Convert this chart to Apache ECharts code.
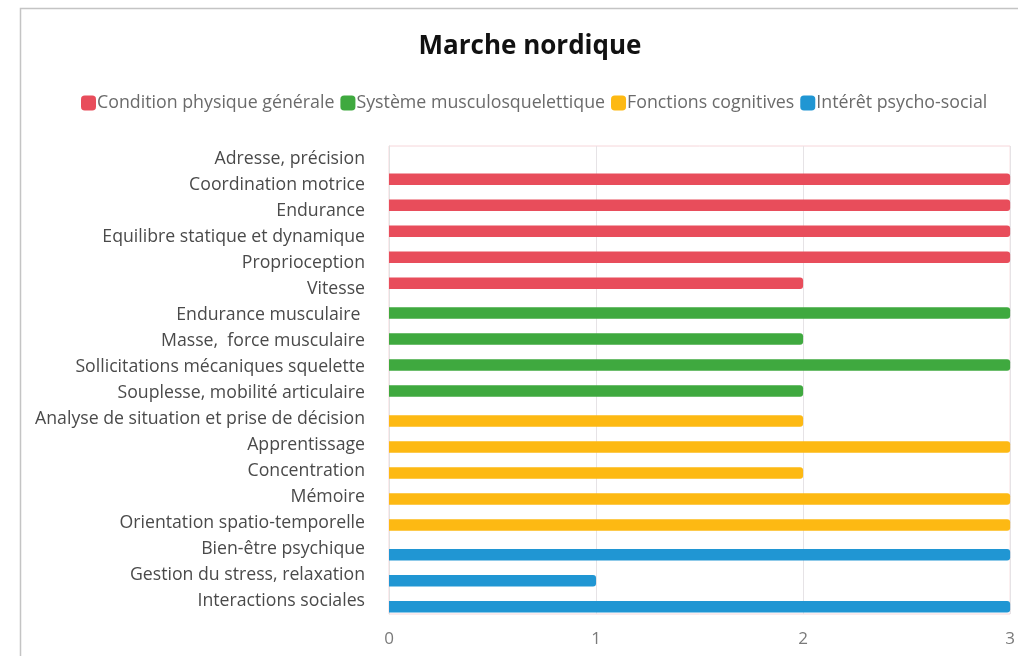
<!DOCTYPE html>
<html>
<head>
<meta charset="utf-8">
<title>Marche nordique</title>
<script src="https://cdn.jsdelivr.net/npm/echarts@6/dist/echarts.min.js"></script>
<style>
  html, body { margin: 0; padding: 0; background: #fff; }
  #chart { width: 1018px; height: 656px; }
</style>
</head>
<body>
<div id="chart"></div>
<script>
// categories, top to bottom
const categories = [
  'Adresse, précision',
  'Coordination motrice',
  'Endurance',
  'Equilibre statique et dynamique',
  'Proprioception',
  'Vitesse',
  'Endurance musculaire ',
  'Masse,  force musculaire',
  'Sollicitations mécaniques squelette',
  'Souplesse, mobilité articulaire',
  'Analyse de situation et prise de décision',
  'Apprentissage',
  'Concentration',
  'Mémoire',
  'Orientation spatio-temporelle',
  'Bien-être psychique',
  'Gestion du stress, relaxation',
  'Interactions sociales'
];

const seriesNames = [
  'Condition physique générale',
  'Système musculosquelettique',
  'Fonctions cognitives',
  'Intérêt psycho-social'
];

const conditionPhysique = [0, 3, 3, 3, 3, 2, 0, 0, 0, 0, 0, 0, 0, 0, 0, 0, 0, 0];
const musculoSquelettique = [0, 0, 0, 0, 0, 0, 3, 2, 3, 2, 0, 0, 0, 0, 0, 0, 0, 0];
const fonctionsCognitives = [0, 0, 0, 0, 0, 0, 0, 0, 0, 0, 2, 3, 2, 3, 3, 0, 0, 0];
const psychoSocial = [0, 0, 0, 0, 0, 0, 0, 0, 0, 0, 0, 0, 0, 0, 0, 3, 1, 3];

const xTicks = [0, 1, 2, 3];

const colors = ['#E84D5B', '#3FA93F', '#FDB913', '#2096D3'];
const seriesData = [conditionPhysique, musculoSquelettique, fonctionsCognitives, psychoSocial];

const chartDom = document.getElementById('chart');
const myChart = echarts.init(chartDom, null, { renderer: 'canvas' });

const font = '"Open Sans", sans-serif';

const option = {
  backgroundColor: '#fff',
  animation: false,
  color: colors,
  title: {
    text: 'Marche nordique',
    left: 525,
    textAlign: 'center',
    top: 29,
    textStyle: {
      fontFamily: font,
      fontWeight: 'bold',
      fontSize: 26,
      color: '#111'
    }
  },
  legend: {
    data: seriesNames,
    left: 76,
    top: 89,
    icon: 'roundRect',
    itemWidth: 15,
    itemHeight: 15,
    itemGap: 6,
    textStyle: {
      fontFamily: font,
      fontSize: 17.8,
      color: '#6b6b6b',
      padding: [0, 0, 0, -4]
    }
  },
  graphic: [{
    type: 'rect',
    shape: { x: 20.5, y: 8.5, width: 1100, height: 700 },
    style: { fill: null, stroke: '#c4c4c4', lineWidth: 1.5 },
    silent: true
  }],
  grid: {
    left: 389,
    right: 3,
    top: 146,
    bottom: 42,
    show: true,
    borderColor: '#f6d6da',
    borderWidth: 1
  },
  xAxis: {
    type: 'value',
    min: xTicks[0],
    max: xTicks[xTicks.length - 1],
    interval: 1,
    axisLine: { show: false },
    axisTick: { show: false },
    axisLabel: {
      fontFamily: font,
      fontSize: 17,
      color: '#7a7a7a',
      margin: 17,
      formatter: (v) => String(v)
    },
    splitLine: { lineStyle: { color: '#e6e3e6', width: 1 } }
  },
  yAxis: {
    type: 'category',
    data: categories,
    inverse: true,
    axisLine: { show: true, lineStyle: { color: '#e2e2e2' } },
    axisTick: { show: false },
    axisLabel: {
      fontFamily: font,
      fontSize: 17.7,
      color: '#4a4a4a',
      margin: 24,
      interval: 0
    }
  },
  series: seriesData.map((data, i) => ({
    name: seriesNames[i],
    type: 'bar',
    data: data,
    barWidth: 11.5,
    barGap: '-66%',
    barCategoryGap: '20%',
    itemStyle: {
      color: colors[i],
      borderRadius: [0, 3, 3, 0]
    }
  }))
};

myChart.setOption(option);
window.addEventListener('resize', () => myChart.resize());
</script>
</body>
</html>
